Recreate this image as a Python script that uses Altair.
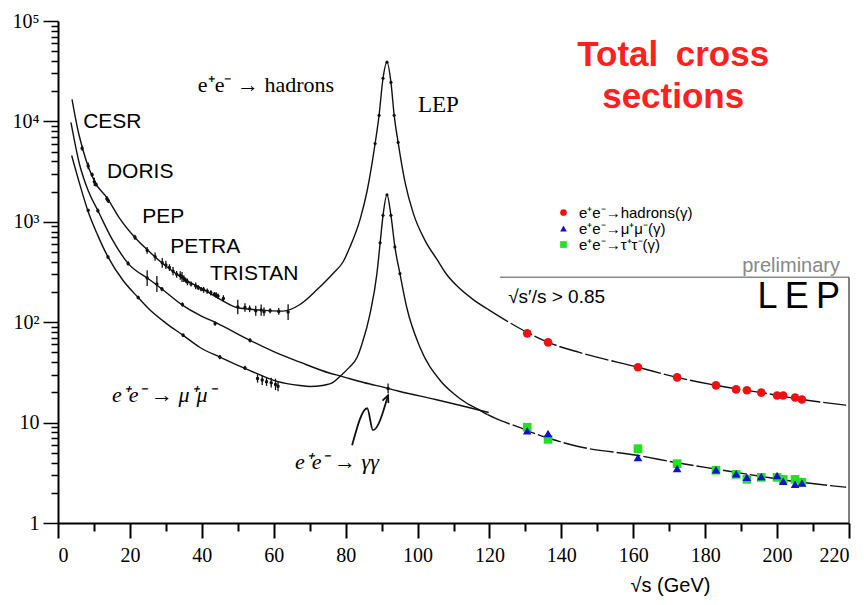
import altair as alt
import pandas as pd

# ---------------- curves (pb vs GeV) ----------------
had_x = [3.9, 5.5, 7.0, 8.3, 10.5, 13.6, 17.0, 21.4, 25.5, 29.8, 35.0, 40.9, 45.0, 49.8, 56.2, 62.6,
         67.3, 72.0, 76.5, 79.3, 81.2, 84.0, 86.0, 88.2, 89.3, 90.4, 91.5, 92.6, 93.5, 94.6, 96.5,
         98.8, 102.1, 105.5, 108.0, 111.0, 115.5, 119.5]
had_y = [16600, 8300, 5130, 3630, 2400, 1740, 1100, 697, 500, 367, 270, 207, 170, 140, 132, 129,
         150, 210, 305, 400, 560, 1050, 2050, 6030, 11500, 26900, 38900, 24500, 11500, 6170, 2500,
         1220, 650, 417, 302, 229, 168, 135]
had_dash_x = [119.5, 125.0, 130.5, 136.3, 145.0, 161.3, 172.2, 183.0, 195.6, 206.9, 219.2]
had_dash_y = [135, 102, 79, 63, 50, 35.6, 28.2, 23.5, 19.9, 17.0, 14.9]

mm_x = [3.8, 6.0, 8.4, 11.0, 13.9, 18.0, 22.3, 25.6, 30.0, 34.8, 39.5, 45.0, 53.4, 60.9, 67.3, 70.1,
        73.5, 76.5, 78.4, 81.0, 83.2, 84.5, 86.8, 88.7, 89.6, 90.4, 91.5, 92.6, 93.7, 95.1, 97.0,
        100.7, 106.3, 110.0, 113.8, 116.5, 119.5]
mm_y = [4570, 2400, 1260, 741, 447, 263, 176, 132, 98, 74, 56, 45, 33, 25.7, 23.4, 22.9,
        23.4, 25.1, 28.8, 35.5, 44.7, 60, 122, 305, 617, 1160, 1860, 1160, 562, 305, 140,
        56, 26.3, 19.5, 15.5, 13.8, 12.0]
mm_dash_x = [119.5, 123.0, 128.5, 130.5, 136.9, 145.0, 161.0, 172.2, 183.2, 195.3, 206.9, 219.2]
mm_dash_y = [12.0, 10.5, 8.9, 8.3, 6.9, 5.75, 4.73, 3.98, 3.43, 2.92, 2.54, 2.27]

gg_x = [3.6, 6.0, 8.5, 11.1, 15.0, 19.5, 25.6, 28.9, 34.6, 39.5, 44.2, 53.4, 60.0, 67.3, 75.7, 78.4,
        85.0, 91.8, 95.1, 105.0, 112.0, 119.8]
gg_y = [9770, 3720, 2000, 1290, 676, 385, 263, 214, 148, 117, 98, 66, 51, 40, 31, 29.2,
        25.1, 21.9, 20.4, 17.0, 14.8, 12.6]

# ---------------- low energy measurements ----------------
had_pts_x = [6.7, 8.4, 9.5, 10.1, 10.6, 13.6, 14.0, 21.4, 24.8, 27.0, 29.0, 30.0, 31.0, 32.0, 33.0,
             34.0, 34.5, 35.0, 35.5, 36.0, 37.0, 38.3, 39.0, 39.8, 40.5, 41.5, 42.5, 43.5, 44.0, 44.5,
             46.0, 50.0, 52.0, 53.3, 55.0, 56.5, 57.3, 59.0, 61.4, 64.0]
had_pts_y = [5400, 3600, 2950, 2500, 2350, 1700, 1620, 700, 520, 450, 390, 372, 350, 322, 300,
             292, 282, 272, 262, 252, 240, 230, 222, 214, 210, 204, 196, 190, 186, 182,
             172, 142, 140, 136, 130, 132, 127, 130, 128, 126]
had_pts_err = [0.06, 0.08, 0.05, 0.1, 0.05, 0.06, 0.05, 0.06, 0.08, 0.1, 0.12, 0.1, 0.08, 0.1, 0.08,
               0.1, 0.12, 0.08, 0.06, 0.08, 0.06, 0.08, 0.06, 0.05, 0.07, 0.06, 0.06, 0.05, 0.07, 0.06,
               0.08, 0.18, 0.1, 0.08, 0.12, 0.14, 0.1, 0.06, 0.08, 0.2]
gg_pts_x = [11.1, 19.5, 24.8, 27.5, 28.9, 34.6, 43.7, 53.4, 91.8]
gg_pts_y = [1290, 385, 275, 240, 214, 150, 97, 66, 21.9]
gg_pts_err = [0.05, 0.05, 0.2, 0.2, 0.05, 0.05, 0.05, 0.05, 0.12]
mm_pts_x = [8.4, 13.9, 22.3, 34.8, 45.0, 52.0, 55.5, 56.8, 58.0, 59.3, 60.5, 61.2]
mm_pts_y = [1300, 445, 176, 74, 45, 35, 27.5, 26.5, 25.5, 25, 24, 23]
mm_pts_err = [0.04, 0.04, 0.04, 0.04, 0.05, 0.05, 0.1, 0.12, 0.1, 0.12, 0.14, 0.12]
z_pts_x = [88.2, 89.3, 90.4, 91.5, 92.6, 93.5, 94.6, 89.6, 90.4, 91.5, 92.6, 93.7, 95.1]
z_pts_y = [6030, 11500, 26900, 38900, 24500, 11500, 6170, 617, 1160, 1860, 1160, 562, 305]

# ---------------- LEP2 measurements ----------------
lep_x = [130.5, 136.3, 161.3, 172.2, 183.0, 188.6, 191.6, 195.6, 200.0, 201.7, 205.0, 206.9]
lep_had = [77.5, 63, 35.6, 28.2, 23.5, 21.4, 21.0, 19.9, 18.6, 18.6, 17.8, 17.0]
lep_mu = [8.3, 7.8, 4.5, 3.5, 3.4, 3.1, 2.85, 2.9, 2.98, 2.6, 2.43, 2.5]
lep_tau = [9.0, 6.8, 5.5, 3.9, 3.35, 3.05, 2.72, 2.85, 2.85, 2.72, 2.72, 2.55]
proc_names = ["e⁺e⁻→hadrons(γ)", "e⁺e⁻→μ⁺μ⁻(γ)", "e⁺e⁻→τ⁺τ⁻(γ)"]
proc_colors = ["#ee1111", "#1010d0", "#22e022"]
proc_shapes = ["circle", "triangle-up", "square"]

# ---------------- annotations ----------------
lab_txt = ["CESR", "DORIS", "PEP", "PETRA", "TRISTAN"]
lab_x = [7.0, 13.6, 23.4, 31.2, 42.3]
lab_y = [9780, 3100, 1110, 557, 300]
ser_txt = ["e⁺e⁻ \u2192 hadrons", "LEP"]
ser_x = [38.9, 100.1]
ser_y = [22900, 14500]
ita_txt = ["e⁺e⁻ \u2192 μ⁺μ⁻", "e⁺e⁻ \u2192 γγ"]
ita_x = [15.0, 65.9]
ita_y = [18.7, 4.03]
red_txt = ["Total\u2002cross", "sections"]
red_x = [171.1, 171.1]
red_y = [45400, 17400]
arrow_x = [81.8, 86.0, 87.6, 91.8]
arrow_y = [5.94, 13.9, 8.4, 18.7]
frame_x = [122.9]
frame_x2 = [220]
frame_y = [280]

x_ticks = list(range(0, 221, 10))
y_ticks = [m * 10 ** e for e in range(0, 5) for m in range(1, 10)] + [100000]

# ---------------- encodings ----------------
xaxis = alt.Axis(values=x_ticks, labelExpr="datum.value % 20 == 0 ? datum.label : ''",
                 tickSize={"condition": {"test": "datum.value % 20 == 0", "value": 15}, "value": 8},
                 grid=False, domainColor="black", domainWidth=2, tickColor="black", tickWidth=2,
                 labelFont="Liberation Serif", labelFontSize=20, labelColor="black", labelPadding=7,
                 title="√s (GeV)", titleFont="Liberation Sans", titleFontSize=20,
                 titleFontWeight="normal", titleColor="black", titleX=612, titleY=62,
                 titleBaseline="middle", titleAlign="center")
ylab = ("datum.value == 1 ? '1' : datum.value == 10 ? '10' : datum.value == 100 ? '10²' : "
        "datum.value == 1000 ? '10³' : datum.value == 10000 ? '10⁴' : datum.value == 100000 ? '10⁵' : ''")
yaxis = alt.Axis(values=y_ticks, labelExpr=ylab,
                 tickSize={"condition": {"test": "indexof([1,10,100,1000,10000,100000], datum.value) >= 0",
                                         "value": 15}, "value": 7},
                 grid=False, domainColor="black", domainWidth=2, tickColor="black", tickWidth=1.5,
                 labelFont="Liberation Serif", labelFontSize=20, labelColor="black", labelPadding=4,
                 title=None)
X = alt.X("x:Q", scale=alt.Scale(domain=[0, 220], nice=False, zero=False), axis=xaxis)
Y = alt.Y("y:Q", scale=alt.Scale(type="log", domain=[1, 100000], nice=False), axis=yaxis)


def curve(xs, ys, dash=None):
    df = pd.DataFrame({"x": xs, "y": ys})
    kw = dict(color="#111111", strokeWidth=1.4, interpolate="monotone")
    if dash:
        kw["strokeDash"] = dash
    return alt.Chart(df).mark_line(**kw).encode(x=X, y=Y)


def meas(xs, ys, errs):
    df = pd.DataFrame({"x": xs, "y": ys, "e": errs})
    df["lo"] = df["y"] / (1 + df["e"])
    df["hi"] = df["y"] * (1 + df["e"])
    bars = alt.Chart(df).mark_rule(color="#111111", strokeWidth=1.3).encode(
        x=X, y=alt.Y("lo:Q", scale=alt.Scale(type="log", domain=[1, 100000], nice=False), axis=yaxis),
        y2="hi:Q")
    dots = alt.Chart(df).mark_circle(color="#111111", size=12, opacity=1).encode(x=X, y=Y)
    return bars + dots


def texts(txt, xs, ys, **kw):
    df = pd.DataFrame({"x": xs, "y": ys, "t": txt})
    return alt.Chart(df).mark_text(**kw).encode(x=X, y=Y, text="t:N")


layers = [
    curve(had_x, had_y), curve(had_dash_x, had_dash_y, [24, 3]),
    curve(mm_x, mm_y), curve(mm_dash_x, mm_dash_y, [24, 3]),
    curve(gg_x, gg_y),
    meas(had_pts_x, had_pts_y, had_pts_err),
    meas(gg_pts_x, gg_pts_y, gg_pts_err),
    meas(mm_pts_x, mm_pts_y, mm_pts_err),
    alt.Chart(pd.DataFrame({"x": z_pts_x, "y": z_pts_y})).mark_circle(
        color="#111111", size=10, opacity=1).encode(x=X, y=Y),
]

# inset frame
fr = pd.DataFrame({"x": frame_x, "x2": frame_x2, "y": frame_y})
layers.append(alt.Chart(fr).mark_rule(color="#888888", strokeWidth=1.5).encode(x=X, x2="x2:Q", y=Y))
fv = pd.DataFrame({"x": frame_x2, "y": [1], "y2": frame_y})
layers.append(alt.Chart(fv).mark_rule(color="#555555", strokeWidth=1.5).encode(x=X, y=Y, y2="y2:Q"))

# LEP2 points
lep = pd.concat([
    pd.DataFrame({"x": lep_x, "y": lep_had, "p": proc_names[0]}),
    pd.DataFrame({"x": lep_x, "y": lep_tau, "p": proc_names[2]}),
    pd.DataFrame({"x": lep_x, "y": lep_mu, "p": proc_names[1]}),
])
lep["o"] = range(len(lep))
legend = alt.Legend(orient="none", legendX=498, legendY=184, title=None,
                    labelFont="Liberation Sans", labelFontSize=15, labelColor="black",
                    symbolSize=45, rowPadding=0, labelOffset=8, symbolStrokeWidth=0)
layers.append(alt.Chart(lep).mark_point(filled=True, size=75, opacity=1).encode(
    x=X, y=Y,
    color=alt.Color("p:N", scale=alt.Scale(domain=proc_names, range=proc_colors), legend=legend),
    shape=alt.Shape("p:N", scale=alt.Scale(domain=proc_names, range=proc_shapes), legend=legend),
    order="o:Q"))

# arrow
adf = pd.DataFrame({"x": arrow_x, "y": arrow_y})
layers.append(alt.Chart(adf).mark_line(color="#111111", strokeWidth=1.8, interpolate="monotone").encode(x=X, y=Y))
layers.append(alt.Chart(adf.tail(1)).mark_point(shape="M -0.5 1.1 L 0 0 L 0.5 1.1", filled=False,
                                                 color="#111111", strokeWidth=1.8, size=160,
                                                 angle=22, opacity=1).encode(x=X, y=Y))

# texts
layers.append(texts(lab_txt, lab_x, lab_y, align="left", baseline="middle",
                    font="Liberation Sans", fontSize=21, color="black"))
layers.append(texts(ser_txt[:1], ser_x[:1], ser_y[:1], align="left", baseline="middle",
                    font="Liberation Serif", fontSize=22, color="black"))
layers.append(texts(ser_txt[1:], ser_x[1:], ser_y[1:], align="left", baseline="middle",
                    font="Liberation Serif", fontSize=23, color="black"))
layers.append(texts(ita_txt, ita_x, ita_y, align="left", baseline="middle",
                    font="Liberation Serif", fontSize=22, fontStyle="italic", color="black"))
layers.append(texts(red_txt, red_x, red_y, align="center", baseline="middle",
                    font="Liberation Sans", fontSize=35, fontWeight="bold", color="#ff2020"))
layers.append(texts(["preliminary"], [217.5], [360], align="right", baseline="middle",
                    font="Liberation Sans", fontSize=20, color="#888888"))
layers.append(texts(["L\u2009E\u2009P"], [217.5], [177], align="right", baseline="middle",
                    font="Liberation Sans", fontSize=36, color="black"))
layers.append(texts(["√s′/s > 0.85"], [125.2], [177], align="left", baseline="middle",
                    font="Liberation Sans", fontSize=19, color="black"))

chart = alt.layer(*layers).properties(
    width=791, height=502,
    autosize=alt.AutoSizeParams(type="none"),
    padding={"left": 50, "top": 13, "right": 6, "bottom": 74},
    background="white",
).configure_view(stroke=None)

chart.save("out.html", embed_options={"renderer": "svg", "actions": False})
